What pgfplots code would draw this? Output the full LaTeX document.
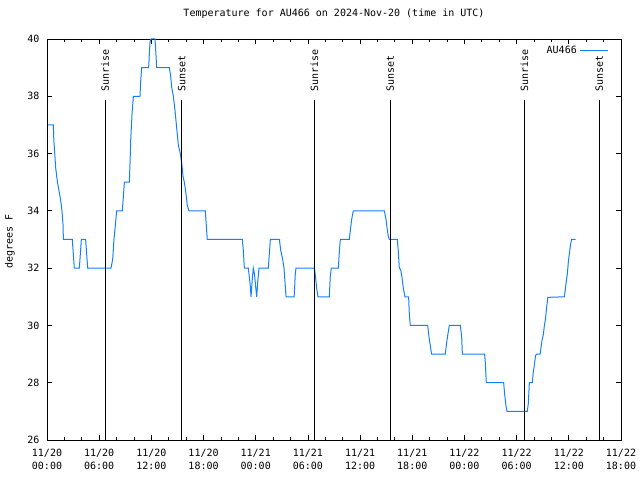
\documentclass[border=0pt]{standalone}
\usepackage{fontspec}
\setmainfont{DejaVu Sans Mono}
\usepackage{pgfplots}
\pgfplotsset{compat=1.18}
\definecolor{lineblue}{RGB}{20,128,255}
\begin{document}
\fontsize{10bp}{12.3bp}\selectfont
\begin{tikzpicture}
\begin{axis}[
  at={(0,0)}, anchor=south west,
  scale only axis, width=574bp, height=401bp,
  xmin=0, xmax=66, ymin=26, ymax=40,
  xtick={0,6,...,66},
  xticklabels={{11/20\\00:00},{11/20\\06:00},{11/20\\12:00},{11/20\\18:00},{11/21\\00:00},{11/21\\06:00},{11/21\\12:00},{11/21\\18:00},{11/22\\00:00},{11/22\\06:00},{11/22\\12:00},{11/22\\18:00}},
  minor x tick num=2,
  ytick={26,28,...,40},
  tick align=inside,
  major tick length=5bp, minor tick length=3bp,
  every tick/.style={black, line width=0.8bp},
  axis line style={line width=0.8bp},
  /pgf/number format/assume math mode=true,
  tick label style={font=\fontsize{10bp}{12.3bp}\selectfont},
  xticklabel style={align=center, yshift=-6bp},
  yticklabel style={xshift=-4bp},
  title={Temperature for AU466 on 2024-Nov-20 (time in UTC)},
  title style={at={(0.5,1)}, anchor=center, yshift=19bp, font=\fontsize{10bp}{12bp}\selectfont},
  ylabel={degrees F},
  ylabel style={at={(axis description cs:-0.0645,0.495)}, anchor=center, font=\fontsize{10bp}{12bp}\selectfont},
  legend plot pos=right,
  legend image code/.code={\draw[#1, line width=1bp] (0bp,0bp) -- (28bp,0bp);},
  legend style={draw=none, fill=none, at={(1,1)}, anchor=north east, xshift=-12bp, yshift=-4bp, inner sep=0pt, font=\fontsize{10bp}{12bp}\selectfont, nodes={inner sep=3bp}},
]
\addplot[lineblue, line width=1bp] coordinates {
(0.1,37) (0.73,37) (0.78,36.5) (1.0,35.5) (1.2,35.0) (1.5,34.5) (1.6,34.3) (1.72,34.0) (1.85,33.5) (1.88,33.0)
(2.91,33.0) (3.14,32.0) (3.72,32.0) (3.95,33.0) (4.44,33.0) (4.68,32.0) (7.36,32.0) (7.55,32.3) (7.7,33.0) (7.86,33.5)
(8.01,34.0) (8.66,34.0) (8.78,34.5) (8.9,35.0) (9.47,35.0) (9.55,35.7) (9.63,36.5) (9.78,37.4) (9.93,38.0) (10.69,38.0)
(10.77,38.5) (10.88,39.0) (11.69,39.0) (11.77,39.5) (11.85,39.9) (11.96,40.0) (12.42,40.0) (12.5,39.6) (12.61,39.0) (14.07,39.0)
(14.22,38.7) (14.34,38.3) (14.53,38.0) (14.72,37.5) (14.91,36.9) (15.10,36.3) (15.33,36.0) (15.52,35.6) (15.64,35.2) (15.79,35.0)
(15.98,34.6) (16.13,34.2) (16.32,34.0) (18.2,34.0) (18.43,33.0) (22.46,33.0) (22.58,32.6) (22.69,32.0) (23.15,32.0) (23.26,31.7)
(23.37,31.4) (23.46,31.0) (23.6,31.6) (23.72,32.0) (23.85,31.8) (24.11,31.0) (24.25,31.6) (24.38,32.0) (25.45,32.0) (25.68,33.0)
(26.72,33.0) (26.87,32.63) (27.1,32.3) (27.25,32.0) (27.37,31.5) (27.49,31.0) (28.42,31.0) (28.55,31.8) (28.63,32.0) (30.74,32.0)
(30.88,31.7) (31.0,31.3) (31.16,31.0) (32.46,31.0) (32.57,31.7) (32.69,32.0) (33.5,32.0) (33.62,32.6) (33.73,33.0) (34.76,33.0)
(34.91,33.4) (35.03,33.7) (35.22,34.0) (38.79,34.0) (38.98,33.7) (39.1,33.4) (39.25,33.1) (39.37,33.0) (40.28,33.0) (40.39,32.6)
(40.51,32.0) (40.66,31.95) (40.81,31.7) (40.97,31.3) (41.16,31.0) (41.58,31.0) (41.66,30.4) (41.77,30.0) (43.77,30.0) (43.92,29.6)
(44.07,29.3) (44.22,29.0) (45.8,29.0) (45.95,29.4) (46.1,29.7) (46.26,30.0) (47.53,30.0) (47.68,29.6) (47.76,29.0) (50.32,29.0)
(50.4,28.7) (50.51,28.0) (52.51,28.0) (52.62,27.6) (52.77,27.2) (52.89,27.0) (55.23,27.0) (55.35,27.3) (55.46,28.0) (55.8,28.0)
(55.91,28.35) (56.03,28.6) (56.18,28.95) (56.3,29.0) (56.7,29.0) (56.81,29.25) (56.93,29.5) (57.08,29.7) (57.19,30.0) (57.31,30.2)
(57.42,30.55) (57.58,30.98) (59.48,31.0) (59.6,31.25) (59.71,31.55) (59.83,31.8) (59.94,32.2) (60.06,32.5) (60.21,32.85) (60.33,33.0)
(60.79,33.0)
};
\addlegendentry{AU466}
\addplot[black, line width=1bp, forget plot] coordinates {(6.70,26) (6.70,37.87)};
\addplot[black, line width=1bp, forget plot] coordinates {(15.49,26) (15.49,37.87)};
\addplot[black, line width=1bp, forget plot] coordinates {(30.74,26) (30.74,37.87)};
\addplot[black, line width=1bp, forget plot] coordinates {(39.48,26) (39.48,37.87)};
\addplot[black, line width=1bp, forget plot] coordinates {(54.90,26) (54.90,37.87)};
\addplot[black, line width=1bp, forget plot] coordinates {(63.50,26) (63.50,37.87)};
\node[rotate=90, anchor=west, inner sep=0pt] at (axis cs:6.70,38.15) {Sunrise};
\node[rotate=90, anchor=west, inner sep=0pt] at (axis cs:15.49,38.15) {Sunset};
\node[rotate=90, anchor=west, inner sep=0pt] at (axis cs:30.74,38.15) {Sunrise};
\node[rotate=90, anchor=west, inner sep=0pt] at (axis cs:39.48,38.15) {Sunset};
\node[rotate=90, anchor=west, inner sep=0pt] at (axis cs:54.90,38.15) {Sunrise};
\node[rotate=90, anchor=west, inner sep=0pt] at (axis cs:63.50,38.15) {Sunset};
\end{axis}
\pgfresetboundingbox
\path[use as bounding box] (-47bp,-40bp) rectangle (593bp,440bp);
\end{tikzpicture}
\end{document}
